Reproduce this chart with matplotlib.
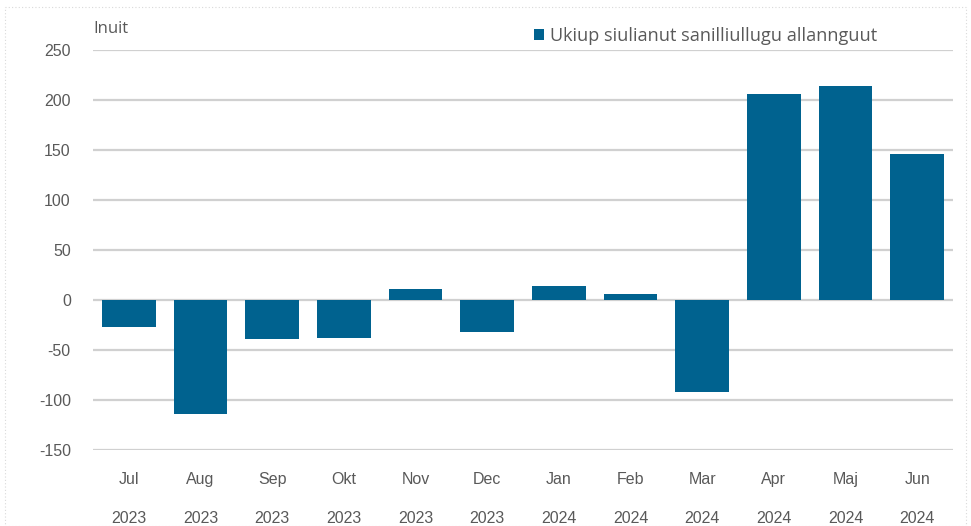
import matplotlib
matplotlib.use("Agg")
import matplotlib.pyplot as plt
from matplotlib.patches import Rectangle

months = ["Jul", "Aug", "Sep", "Okt", "Nov", "Dec", "Jan", "Feb", "Mar", "Apr", "Maj", "Jun"]
years = ["2023", "2023", "2023", "2023", "2023", "2023", "2024", "2024", "2024", "2024", "2024", "2024"]
values = [-27, -114, -39, -38, 11, -32, 14, 6, -92, 206, 214, 146]
series_name = "Ukiup siulianut sanilliullugu allannguut"
yticks = [-150, -100, -50, 0, 50, 100, 150, 200, 250]

bar_color = "#00628F"
text_color = "#595959"
grid_color = "#D0D0D0"

plt.rcParams['font.family'] = ['Liberation Sans', 'DejaVu Sans']

W, H = 971, 526
fig = plt.figure(figsize=(W/100, H/100), dpi=100)
ax = fig.add_axes([93/W, 1-450/H, (953-93)/W, 400/H])

x = list(range(len(months)))
ax.bar(x, values, width=0.75, color=bar_color, zorder=3, label=series_name)
ax.set_xlim(-0.5, len(months)-0.5)
ax.set_ylim(-150, 250)
ax.set_yticks(yticks)
ax.set_yticklabels([str(v) for v in yticks], color=text_color, fontsize=11.5)
ax.yaxis.grid(True, color=grid_color, linewidth=1.6, zorder=0)
ax.set_axisbelow(True)
for s in ax.spines.values():
    s.set_visible(False)
ax.tick_params(axis='y', length=0, pad=16)
ax.tick_params(axis='x', length=0, pad=16)
ax.set_xticks(x)
ax.set_xticklabels([f"{m}\n{y}" for m, y in zip(months, years)], color=text_color,
                   fontsize=11.5, linespacing=3.0, va='top')

fig.text(93/W, 1-29/H, "Inuit", color=text_color, fontsize=12, va='center', ha='left',
         family=['Open Sans', 'DejaVu Sans'])
leg = ax.legend(loc='upper left', bbox_to_anchor=((534-93)/(953-93), 1 + (50-27)/400),
                frameon=False, prop={'family': ['Open Sans', 'DejaVu Sans'], 'size': 13.1},
                handlelength=0.55, handleheight=0.55,
                handletextpad=0.35, borderaxespad=0, borderpad=0)
for t in leg.get_texts():
    t.set_color(text_color)

fig.patches.append(Rectangle((5/W, 0), 961/W, 1-7/H, transform=fig.transFigure,
                             fill=False, edgecolor="#D9D9D9", linewidth=0.8,
                             linestyle=(0, (1, 2))))

fig.savefig("out.png", dpi=100)
